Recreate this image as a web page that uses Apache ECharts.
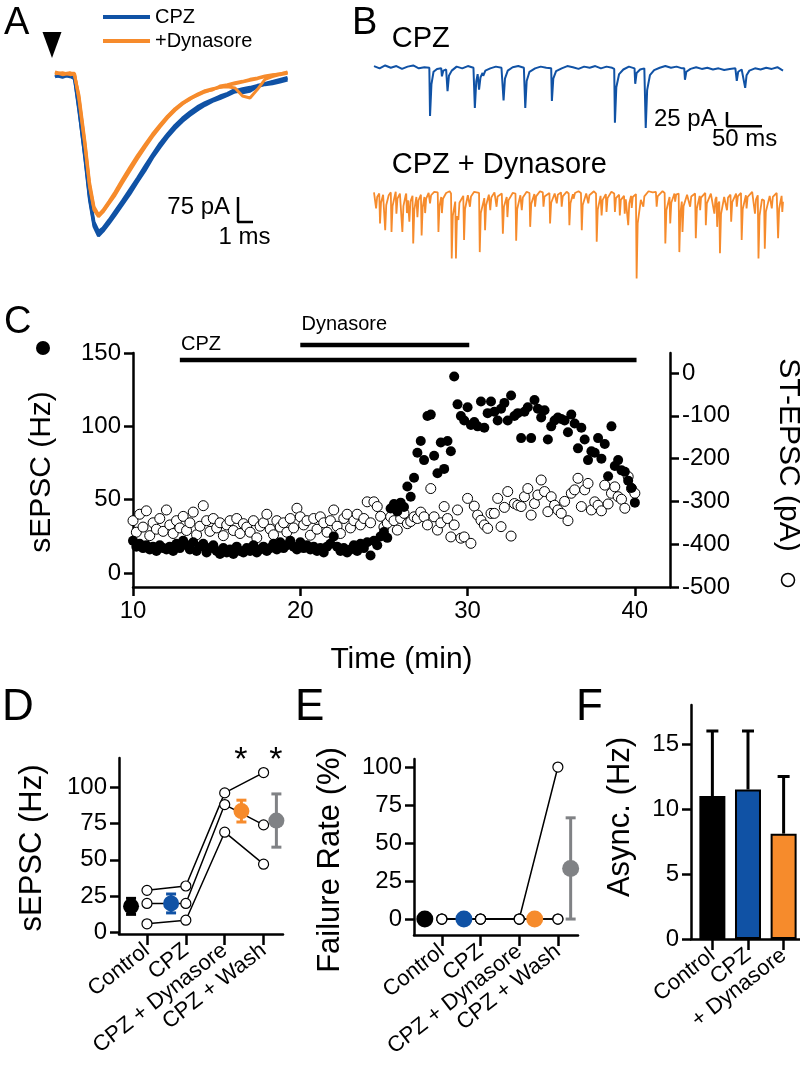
<!DOCTYPE html>
<html>
<head>
<meta charset="utf-8">
<script src="https://cdn.jsdelivr.net/npm/echarts@6.0.0/dist/echarts.min.js"></script>
<style>
  html, body { margin: 0; padding: 0; background: #fff; }
  #chart { width: 800px; height: 1083px; }
</style>
</head>
<body>
<div id="chart"></div>
<script>
// ---- colours / font
const FONT = '"Liberation Sans", Arial, Helvetica, sans-serif';
const BLUE = '#1052a5';
const ORANGE = '#f68b2c';
const GRAY = '#808285';

// ---- panel A: evoked ST-EPSC sweeps (time in ms, current in pA)
const aTimeMs = [0, 0.5, 1, 1.3, 1.6, 2, 2.3, 2.6, 2.9, 3.2, 3.6, 4, 4.5, 5, 5.5, 6, 6.5, 7, 7.5, 8,
  8.5, 9, 9.5, 10, 10.5, 11, 11.5, 12, 12.5, 13, 13.5, 14, 14.5, 15, 15.5];
const aCpz1 = [-14, -9, -14, -19, -114, -264, -384, -464, -492, -478, -455, -430, -398, -366, -330, -296, -258, -226, -196, -170,
  -148, -130, -114, -100, -88, -80, -70, -60, -56, -50, -44, -38, -35, -30, -24];
const aCpz2 = [-6, -12, -4, -14, -96, -246, -370, -450, -478, -468, -444, -418, -386, -352, -318, -282, -248, -214, -186, -160,
  -138, -120, -104, -92, -82, -72, -64, -52, -62, -58, -44, -34, -28, -22, -16];
const aCpz3 = [-10, -16, -8, -22, -120, -258, -378, -458, -486, -476, -450, -424, -392, -360, -326, -290, -254, -220, -192, -166,
  -142, -126, -108, -96, -86, -74, -68, -56, -50, -46, -40, -36, -30, -26, -20];
const aDyn1 = [-5, -2, -8, -6, -84, -224, -344, -414, -434, -420, -395, -370, -332, -296, -260, -226, -194, -165, -138, -115,
  -96, -80, -70, -60, -52, -46, -40, -35, -30, -25, -20, -14, -10, -5, -2];
const aDyn2 = [0, -6, -2, -10, -70, -210, -330, -404, -428, -414, -388, -360, -322, -285, -250, -218, -186, -158, -132, -110,
  -92, -78, -66, -56, -50, -46, -44, -48, -72, -78, -52, -22, -14, -8, -4];
const aDyn3 = [-2, -8, -4, -4, -78, -218, -338, -410, -432, -418, -392, -366, -328, -290, -256, -222, -190, -162, -136, -112,
  -94, -82, -68, -58, -54, -42, -38, -32, -28, -22, -18, -12, -8, -6, 0];
const aStimulus = [[-0.2, 81]];
const aScaleBar = [[12.2, -375], [12.2, -450], [13.2, -450]];

// ---- panel B: spontaneous traces (time in ms, current in pA)
const bCpzTrace = [[0, 2], [8, -2], [16, 3], [24, -1], [32, 2], [40, -3], [48, 1], [56, 3], [64, -2], [72, 0], [79, -1],
  [80, -85], [82, -30], [85, -8], [90, -3], [96, -2], [97, -16], [99, -6], [103, -4], [105, -42], [107, -15], [111, -6],
  [118, 1], [126, -2], [134, 2], [142, -1], [144, -71], [146, -25], [148, -12], [150, -39], [152, -18], [155, -10],
  [156, -15], [159, -6], [166, -2], [174, 1], [182, -1], [184, -2], [185, -58], [187, -20], [191, -6], [198, 0], [206, 2],
  [214, -1], [216, -71], [218, -24], [222, -8], [230, -2], [238, 1], [246, -1], [253, -2], [254, -59], [256, -20],
  [260, -7], [268, -2], [276, 2], [284, 0], [292, -3], [300, 1], [308, -1], [316, 2], [324, -2], [332, 1], [340, -1],
  [343, -3], [344, -97], [346, -35], [350, -12], [356, -4], [364, 1], [372, -2], [373, -29], [375, -10], [380, -4],
  [386, -2], [388, -106], [390, -40], [394, -14], [400, -5], [408, -1], [416, 2], [424, -1], [432, 1], [440, -2],
  [443, -2], [444, -22], [446, -8], [452, -3], [460, 0], [468, -3], [476, -1], [484, -4], [492, -2], [500, -5], [508, -3],
  [516, -2], [518, -24], [520, -8], [525, -4], [530, -36], [532, -14], [536, -6], [544, -2], [552, -4], [560, -1],
  [568, -3], [576, 0], [584, -6]];
const bDynTrace = [[0, -4], [2, -6], [3, -32], [4.5, -12], [7.5, -6], [8.6, -58], [10, -22], [13, -8], [15, -5], [16, -70],
  [17.5, -26], [21, -9], [24, -4], [25, -73], [26.5, -28], [30, -8], [31, -3], [32, -41], [33.5, -15], [37, -6], [39.5, -5],
  [40.5, -73], [42, -28], [45, -10], [46, -6], [47, -40], [48.5, -18], [50.5, -55], [52, -20], [55, -10], [56, -93],
  [57.5, -35], [60.5, -12], [62, -47], [63.5, -18], [67, -8], [68, -79], [69.5, -30], [72, -12], [73, -40], [74.5, -15],
  [78, -5], [80, -23], [81.5, -9], [86, -3], [91, -4], [92, -73], [93.5, -28], [96, -12], [97, -40], [98.5, -15], [103, -5],
  [108, -2], [110, -6], [111, -119], [112.5, -45], [116, -20], [117, -119], [118.5, -45], [120.5, -52], [122, -22],
  [127.5, -10], [128.6, -87], [130, -33], [134, -9], [137, -29], [138.5, -11], [143, -3], [150, -5], [151, -108],
  [152.5, -40], [157.5, -14], [158.6, -70], [160, -27], [164, -8], [166, -35], [167.5, -13], [172, -4], [175, -29],
  [176.5, -11], [182.5, -6], [184, -76], [185.5, -29], [189.5, -12], [190.5, -47], [192, -18], [198, -5], [202, -6],
  [203, -88], [204.5, -33], [209, -9], [211, -35], [212.5, -13], [218, -3], [222, -5], [223, -64], [224.5, -24], [229, -7],
  [230, -29], [231.5, -11], [237, -2], [241, -4], [242, -29], [243.5, -11], [250.5, -5], [251.4, -58], [253, -22],
  [258, -6], [261, -23], [262.5, -8], [267, -4], [268, -29], [269.5, -11], [275, -3], [278, -6], [279, -61], [280.5, -23],
  [284, -7], [285, -15], [287, -5], [292, -2], [295.5, -5], [296.7, -70], [298, -26], [303, -6], [306, -23], [307.5, -9],
  [314, -2], [317, -6], [318, -90], [319.5, -34], [323.5, -10], [325, -44], [326.5, -17], [331, -7], [332, -38],
  [333.5, -14], [339, -3], [343, -6], [344, -38], [345.5, -14], [350, -8], [351, -44], [352.5, -17], [357, -10], [358, -41],
  [359.5, -16], [362, -14], [363, -61], [364.5, -23], [367, -10], [368, -31], [369.5, -12], [374, -7], [375, -154],
  [376.5, -58], [381, -17], [384.6, -29], [386, -11], [392, -2], [398, -4], [402.5, -3], [403.6, -29], [405, -11], [412, -2],
  [415, -5], [416, -93], [417.5, -35], [422, -12], [423, -58], [424.5, -22], [429, -6], [430, -20], [431.5, -8], [435, -6],
  [436, -108], [437.5, -40], [439.5, -20], [440.5, -73], [442, -28], [447, -8], [451.4, -29], [453, -11], [458.5, -6],
  [459.5, -84], [461, -32], [465, -10], [465.7, -35], [467, -13], [473, -5], [473.8, -61], [475.3, -23], [481, -6],
  [486, -41], [487.5, -16], [489, -12], [490, -64], [491.5, -24], [493, -20], [494, -110], [495.5, -42], [500, -12],
  [504, -35], [505.5, -13], [509, -8], [510, -55], [511.5, -21], [517, -6], [518, -29], [519.5, -11], [524, -5], [525, -87],
  [526.5, -33], [531, -9], [532, -32], [533.5, -12], [540, -3], [544, -41], [545.5, -16], [548, -9], [549, -119],
  [550.5, -45], [554, -16], [557, -18], [558, -102], [559.5, -38], [565, -10], [568, -32], [569.5, -12], [575, -5],
  [577, -84], [578.5, -32], [582, -10], [583, -38], [584, -20]];
const bScaleBar = [[504, -78], [504, -103], [554, -103]];

// ---- panel C: time course
const timeMin = [
  10.0, 10.2, 10.4, 10.6, 10.8, 11.0, 11.2, 11.4, 11.6, 11.8, 12.0, 12.2, 12.4, 12.6, 12.8,
  13.0, 13.2, 13.4, 13.6, 13.8, 14.0, 14.2, 14.4, 14.6, 14.8, 15.0, 15.2, 15.4, 15.6, 15.8,
  16.0, 16.2, 16.4, 16.6, 16.8, 17.0, 17.2, 17.4, 17.6, 17.8, 18.0, 18.2, 18.4, 18.6, 18.8,
  19.0, 19.2, 19.4, 19.6, 19.8, 20.0, 20.2, 20.4, 20.6, 20.8, 21.0, 21.2, 21.4, 21.6, 21.8,
  22.0, 22.2, 22.4, 22.6, 22.8, 23.0, 23.2, 23.4, 23.6, 23.8, 24.0, 24.2, 24.4, 24.6, 24.8,
  25.0, 25.2, 25.4, 25.6, 25.8, 26.0, 26.2, 26.4, 26.6, 26.8, 27.0, 27.2, 27.4, 27.6, 27.8,
  28.0, 28.2, 28.4, 28.6, 28.8, 29.0, 29.2, 29.4, 29.6, 29.8, 30.0, 30.2, 30.4, 30.6, 30.8,
  31.0, 31.2, 31.4, 31.6, 31.8, 32.0, 32.2, 32.4, 32.6, 32.8, 33.0, 33.2, 33.4, 33.6, 33.8,
  34.0, 34.2, 34.4, 34.6, 34.8, 35.0, 35.2, 35.4, 35.6, 35.8, 36.0, 36.2, 36.4, 36.6, 36.8,
  37.0, 37.2, 37.4, 37.6, 37.8, 38.0, 38.2, 38.4, 38.6, 38.8, 39.0, 39.2, 39.4, 39.6, 39.8,
  40.0];
const sEpscHz = [
  22, 18, 20, 17, 19, 16, 18, 15, 19, 17, 16, 18, 15, 20, 17,
  22, 19, 16, 21, 15, 18, 20, 14, 17, 19, 15, 13, 17, 14, 16,
  13, 18, 15, 14, 17, 15, 19, 14, 16, 18, 15, 17, 20, 16, 21,
  17, 19, 22, 18, 16, 21, 17, 19, 16, 18, 15, 17, 14, 18, 20,
  25, 18, 15, 17, 14, 16, 19, 15, 20, 17, 21, 12, 22, 19, 25,
  28, 24, 44, 47, 42, 48, 45, 59, 52, 65, 82, 90, 77, 107, 108,
  80, 68, 89, 71, 90, 83, 134, 115, 107, 104, 113, 101, 103, 100, 117,
  99, 109, 117, 110, 104, 112, 116, 104, 121, 107, 109, 92, 110, 113, 92,
  118, 112, 106, 111, 91, 100, 104, 106, 105, 104, 96, 108, 102, 85, 99,
  91, 77, 83, 82, 92, 78, 88, 66, 100, 73, 77, 70, 69, 63, 58,
  48];
const stEpscPa = [
  -345, -372, -330, -360, -322, -380, -350, -365, -340, -370, -320, -355, -375, -345, -362,
  -335, -368, -350, -325, -378, -358, -310, -345, -370, -340, -362, -350, -380, -355, -345,
  -368, -340, -375, -352, -360, -372, -345, -385, -358, -350, -330, -365, -378, -345, -360,
  -350, -372, -340, -362, -316, -336, -355, -345, -379, -340, -365, -336, -350, -372, -345,
  -320, -358, -375, -340, -330, -362, -345, -330, -355, -340, -301, -350, -301, -312, -335,
  -360, -351, -336, -345, -367, -340, -328, -352, -347, -336, -340, -325, -336, -355, -270,
  -336, -367, -350, -312, -340, -383, -355, -320, -386, -383, -293, -398, -311, -332, -344,
  -355, -363, -328, -328, -293, -359, -314, -277, -381, -305, -309, -312, -289, -270, -332,
  -305, -285, -250, -277, -324, -289, -309, -320, -328, -300, -345, -281, -273, -246, -312,
  -273, -258, -320, -301, -309, -322, -262, -306, -281, -266, -289, -295, -316, -242, -270,
  -281];
const cpzBar = [[12.8, 145.2], [40.1, 145.2]];
const dynasoreBar = [[20, 155.4], [30.1, 155.4]];
const timeTicks = [10, 20, 30, 40];
const sEpscTicks = [0, 50, 100, 150];
const stEpscTicks = [-500, -400, -300, -200, -100, 0];

// ---- panel D: sEPSC per cell and mean +/- SEM
const groupNames = ['Control', 'CPZ', 'CPZ + Dynasore', 'CPZ + Wash'];
const groupPos = [0, 1, 2, 3];
const dCell1 = [29, 32, 96, 110];
const dCell2 = [20, 20, 88, 74];
const dCell3 = [6, 8.5, 69, 47];
const dMeanPos = [-0.41, 0.62, 2.43, 3.33];
const dMean = [18, 20, 83.5, 77];
const dSem = [5.5, 6.5, 7.5, 18.3];
const dStarPos = [2.43, 3.33];
const dTicks = [0, 25, 50, 75, 100];

// ---- panel E: failure rate
const eCell1 = [0, 0, 0, 0];
const eCell2 = [0, 0, 0, 0];
const eCell3 = [0, 0, 0, 100];
const eMeanPos = [-0.44, 0.57, 2.40, 3.33];
const eMean = [0, 0, 0, 33.3];
const eSem = [0, 0, 0, 33.3];
const eTicks = [0, 25, 50, 75, 100];

// ---- panel F: asynchronous release
const fNames = ['Control', 'CPZ', '+ Dynasore'];
const fPos = [0, 1, 2];
const fAsync = [11, 11.5, 8.1];
const fSem = [5, 4.5, 4.4];
const fTicks = [0, 5, 10, 15];

const meanColors = ['#000', BLUE, ORANGE, GRAY];
const fColors = ['#000', BLUE, ORANGE];

function zip(xs, ys) {
  return xs.map((x, i) => [x, ys[i]]);
}

const chart = echarts.init(document.getElementById('chart'), null, { renderer: 'canvas' });

function hiddenAxis(gridIndex, min, max) {
  return { type: 'value', gridIndex, min, max, show: false };
}

function visibleAxis(gridIndex, min, max, ticks, extra) {
  return Object.assign({
    type: 'value', gridIndex, min, max,
    axisLine: { show: true, onZero: false, lineStyle: { color: '#000', width: 2.5 } },
    axisTick: { show: true, length: 9, customValues: ticks, lineStyle: { color: '#000', width: 2.5 } },
    axisLabel: { customValues: ticks, color: '#000', fontSize: 24, fontFamily: FONT, margin: 12 },
    splitLine: { show: false }
  }, extra || {});
}

function categoryXAxis(gridIndex, min, max, names) {
  const axis = visibleAxis(gridIndex, min, max, names.map((n, i) => i));
  axis.axisTick.length = 11;
  axis.axisLabel = {
    customValues: names.map((n, i) => i), color: '#000', fontSize: 22, fontFamily: FONT,
    rotate: 38, margin: 14, formatter: (v) => names[Math.round(v)]
  };
  return axis;
}

function traceLine(xi, yi, data, color, width, name) {
  return {
    type: 'line', name, xAxisIndex: xi, yAxisIndex: yi, data,
    symbol: 'none', showSymbol: false, clip: false, silent: true,
    lineStyle: { color, width }, itemStyle: { color }, z: 2
  };
}

function textMark(xi, yi, point, text, size, align) {
  return {
    type: 'scatter', xAxisIndex: xi, yAxisIndex: yi, data: [point], clip: false, silent: true,
    symbolSize: 1, itemStyle: { color: 'transparent', opacity: 1 }, z: 10,
    label: {
      show: true, position: [0, 0], formatter: text, color: '#000', opacity: 1, fontSize: size,
      fontFamily: FONT, align: align || 'left', verticalAlign: 'middle'
    }
  };
}

function cellLine(xi, yi, values) {
  return {
    type: 'line', xAxisIndex: xi, yAxisIndex: yi, data: zip(groupPos, values),
    symbol: 'circle', symbolSize: 10, showSymbol: true, clip: false, silent: true,
    lineStyle: { color: '#000', width: 1.5 },
    itemStyle: { color: '#fff', borderColor: '#000', borderWidth: 1.2, opacity: 1 }, z: 3
  };
}

function meanDots(xi, yi, xs, ys, size) {
  return {
    type: 'scatter', xAxisIndex: xi, yAxisIndex: yi, symbolSize: size, clip: false, silent: true, z: 5,
    data: xs.map((x, i) => ({ value: [x, ys[i]], itemStyle: { color: meanColors[i], opacity: 1 } }))
  };
}

function errorBars(xi, yi, xs, ys, es, colors, capHalf, both) {
  return {
    type: 'custom', xAxisIndex: xi, yAxisIndex: yi, silent: true, clip: false, z: 4,
    encode: { x: 0, y: 1 },
    data: xs.map((x, i) => [x, ys[i], es[i]]),
    renderItem: (params, api) => {
      const x = api.value(0), m = api.value(1), e = api.value(2);
      if (!e) return null;
      const top = api.coord([x, m + e]);
      const bot = api.coord([x, both ? m - e : m]);
      const style = { stroke: colors[params.dataIndex], lineWidth: 3 };
      const children = [
        { type: 'line', shape: { x1: top[0], y1: top[1], x2: bot[0], y2: bot[1] }, style },
        { type: 'line', shape: { x1: top[0] - capHalf, y1: top[1], x2: top[0] + capHalf, y2: top[1] }, style }
      ];
      if (both) {
        children.push({ type: 'line', shape: { x1: bot[0] - capHalf, y1: bot[1], x2: bot[0] + capHalf, y2: bot[1] }, style });
      }
      return { type: 'group', children };
    }
  };
}

function panelLetter(text, x, y, size) {
  return { type: 'text', x, y, style: { text, fontSize: size, fontFamily: FONT, fill: '#000' }, z: 100 };
}

function rotatedTitle(text, x, y, rotation, size) {
  return {
    type: 'text', x, y, rotation,
    style: { text, fontSize: size, fontFamily: FONT, fill: '#000', align: 'center', verticalAlign: 'middle' }, z: 100
  };
}

const option = {
  animation: false,
  backgroundColor: '#fff',
  textStyle: { fontFamily: FONT },
  legend: {
    data: ['CPZ', '+Dynasore'], left: 103, top: 7, padding: 0, orient: 'vertical', icon: 'rect',
    itemWidth: 47, itemHeight: 4, itemGap: 4, selectedMode: false,
    textStyle: { fontSize: 20, color: '#000', fontFamily: FONT, lineHeight: 20 }
  },
  grid: [
    { left: 40, top: 22, width: 255, height: 250, outerBoundsMode: 'none' },    // A
    { left: 374, top: 50, width: 409, height: 90, outerBoundsMode: 'none' },    // B CPZ
    { left: 374, top: 170, width: 409, height: 120, outerBoundsMode: 'none' },  // B Dynasore
    { left: 133, top: 353, width: 537, height: 234, outerBoundsMode: 'none' },  // C
    { left: 119, top: 758, width: 164, height: 176, outerBoundsMode: 'none' },  // D
    { left: 414, top: 759, width: 164, height: 176, outerBoundsMode: 'none' },  // E
    { left: 691, top: 705, width: 109, height: 234, outerBoundsMode: 'none' }   // F
  ],
  xAxis: [
    hiddenAxis(0, -1, 16),
    hiddenAxis(1, 0, 584),
    hiddenAxis(2, 0, 584),
    visibleAxis(3, 10, 42.1, timeTicks, {
      name: 'Time (min)', nameLocation: 'middle', nameGap: 58,
      nameTextStyle: { fontSize: 30, color: '#000', fontFamily: FONT }
    }),
    categoryXAxis(4, -0.72, 3.5, groupNames),
    categoryXAxis(5, -0.72, 3.52, groupNames),
    categoryXAxis(6, -0.6, 2.46, fNames)
  ],
  yAxis: [
    hiddenAxis(0, -600, 150),
    hiddenAxis(1, -127, 30),
    hiddenAxis(2, -174, 35),
    visibleAxis(3, -9.5, 150, sEpscTicks, { position: 'left' }),
    visibleAxis(3, -500, 46.7, stEpscTicks, { position: 'right' }),
    visibleAxis(4, -1, 120, dTicks),
    visibleAxis(5, -10.5, 105.3, eTicks),
    visibleAxis(6, 0, 18, fTicks)
  ],
  graphic: [
    panelLetter('A', 4, 5, 38),
    panelLetter('B', 352, 5, 38),
    panelLetter('C', 4, 304, 38),
    panelLetter('D', 2, 686, 44),
    panelLetter('E', 295, 686, 44),
    panelLetter('F', 576, 686, 44),
    rotatedTitle('sEPSC (Hz)', 42, 472, Math.PI / 2, 30),
    { type: 'circle', shape: { cx: 43, cy: 348, r: 7 }, style: { fill: '#000' } },
    rotatedTitle('ST-EPSC (pA)', 788, 455, -Math.PI / 2, 30),
    { type: 'circle', shape: { cx: 788, cy: 580, r: 6.5 }, style: { fill: '#fff', stroke: '#000', lineWidth: 1.5 } },
    rotatedTitle('sEPSC (Hz)', 32, 848, Math.PI / 2, 31),
    rotatedTitle('Failure Rate (%)', 330, 860, Math.PI / 2, 31),
    rotatedTitle('Async. (Hz)', 620, 817, Math.PI / 2, 31)
  ],
  series: [
    // A
    traceLine(0, 0, zip(aTimeMs, aCpz1), BLUE, 3, 'CPZ'),
    traceLine(0, 0, zip(aTimeMs, aCpz2), BLUE, 3, 'CPZ'),
    traceLine(0, 0, zip(aTimeMs, aCpz3), BLUE, 3, 'CPZ'),
    traceLine(0, 0, zip(aTimeMs, aDyn1), ORANGE, 3, '+Dynasore'),
    traceLine(0, 0, zip(aTimeMs, aDyn2), ORANGE, 3, '+Dynasore'),
    traceLine(0, 0, zip(aTimeMs, aDyn3), ORANGE, 3, '+Dynasore'),
    traceLine(0, 0, aScaleBar, '#000', 2.5),
    {
      type: 'scatter', xAxisIndex: 0, yAxisIndex: 0, data: aStimulus, clip: false, silent: true,
      symbol: 'path://M0,0L20,0L10,27Z', symbolSize: [19, 26], symbolKeepAspect: false,
      itemStyle: { color: '#000', opacity: 1 }
    },
    textMark(0, 0, [11.7, -408], '75 pA', 24, 'right'),
    textMark(0, 0, [12.67, -498], '1 ms', 24, 'center'),
    // B
    traceLine(1, 1, bCpzTrace, BLUE, 2),
    traceLine(2, 2, bDynTrace, ORANGE, 1.8),
    traceLine(1, 1, bScaleBar, '#000', 2.5),
    textMark(1, 1, [26, 47.5], 'CPZ', 29),
    textMark(2, 2, [26, 43.7], 'CPZ + Dynasore', 29),
    textMark(1, 1, [490, -92], '25 pA', 24, 'right'),
    textMark(1, 1, [530, -127], '50 ms', 24, 'center'),
    // C
    {
      type: 'scatter', xAxisIndex: 3, yAxisIndex: 4, data: zip(timeMin, stEpscPa), symbolSize: 10,
      silent: true, z: 2, itemStyle: { color: '#fff', borderColor: '#000', borderWidth: 1, opacity: 1 }
    },
    {
      type: 'scatter', xAxisIndex: 3, yAxisIndex: 3, data: zip(timeMin, sEpscHz), symbolSize: 10,
      silent: true, z: 3, itemStyle: { color: '#000', opacity: 1 }
    },
    traceLine(3, 3, cpzBar, '#000', 4.5),
    traceLine(3, 3, dynasoreBar, '#000', 4.5),
    textMark(3, 3, [12.9, 155.4], 'CPZ', 20),
    textMark(3, 3, [20.1, 169], 'Dynasore', 20),
    // D
    cellLine(4, 5, dCell1),
    cellLine(4, 5, dCell2),
    cellLine(4, 5, dCell3),
    errorBars(4, 5, dMeanPos, dMean, dSem, meanColors, 5, true),
    meanDots(4, 5, dMeanPos, dMean, 16),
    textMark(4, 5, [dStarPos[0], 118], '*', 34, 'center'),
    textMark(4, 5, [dStarPos[1], 118], '*', 34, 'center'),
    // E
    cellLine(5, 6, eCell1),
    cellLine(5, 6, eCell2),
    cellLine(5, 6, eCell3),
    errorBars(5, 6, eMeanPos, eMean, eSem, meanColors, 5, true),
    meanDots(5, 6, eMeanPos, eMean, 17),
    // F
    {
      type: 'bar', xAxisIndex: 6, yAxisIndex: 7, barWidth: 26, silent: true, z: 2,
      data: fPos.map((x, i) => ({ value: [x, fAsync[i]], itemStyle: { color: fColors[i] } })),
      itemStyle: { borderColor: '#000', borderWidth: 2 }
    },
    errorBars(6, 7, fPos, fAsync, fSem, ['#000', '#000', '#000'], 6, false)
  ]
};

chart.setOption(option);
</script>
</body>
</html>
